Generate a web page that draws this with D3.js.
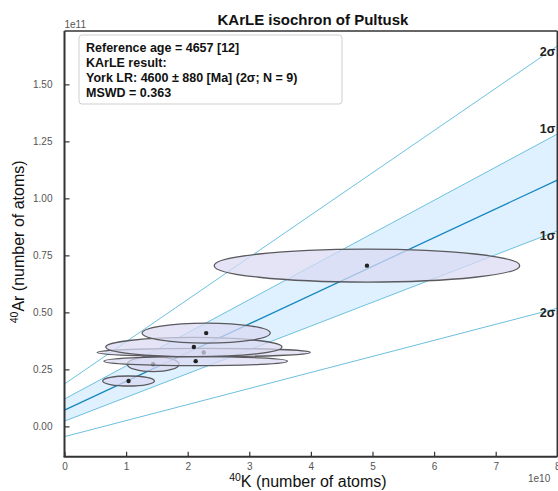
<!DOCTYPE html>
<html>
<head>
<meta charset="utf-8">
<script src="https://cdn.jsdelivr.net/npm/d3@7"></script>
<style>
  body { margin: 0; background: #fff; font-family: "Liberation Sans", Arial, sans-serif; }
</style>
</head>
<body>
<div id="vis"></div>
<script>
// KArLE isochron of Pultusk
// x in units of 1e10 atoms (40K), y in units of 1e11 atoms (40Ar)

// Sample ellipses (centre, semi-axes), in drawing order
const ellX  = [4.91, 1.44, 2.26, 1.04, 2.13, 2.10, 2.30];
const ellY  = [0.705, 0.273, 0.324, 0.199, 0.286, 0.348, 0.409];
const ellRx = [2.48, 0.42, 1.73, 0.42, 1.49, 1.43, 1.04];
const ellRy = [0.072, 0.033, 0.018, 0.022, 0.020, 0.042, 0.044];

// Regression line and confidence bands: y at x = 0 and x = 8
const bandX       = [0, 8];
const centralY    = [0.071, 1.080];
const upper1sY    = [0.120, 1.282];
const lower1sY    = [0.023, 0.857];
const upper2sY    = [0.186, 1.668];
const lower2sY    = [-0.045, 0.518];
const bandLabels  = ["2σ", "1σ", "1σ", "2σ"];

const xTicks = [0, 1, 2, 3, 4, 5, 6, 7, 8];
const yTicks = [0.00, 0.25, 0.50, 0.75, 1.00, 1.25, 1.50];

const legendLines = [
  "Reference age = 4657 [12]",
  "KArLE result:",
  "York LR: 4600 ± 880 [Ma] (2σ; N = 9)",
  "MSWD = 0.363"
];

const width = 558;
const height = 491;
const margin = { top: 31, right: 0.7, bottom: 34.3, left: 64.5 };

const svg = d3.select("#vis")
  .append("svg")
  .attr("width", width)
  .attr("height", height);

const xScale = d3.scaleLinear()
  .domain([0, 8])
  .range([margin.left, width - margin.right]);

const yScale = d3.scaleLinear()
  .domain([-0.133, 1.734])
  .range([height - margin.bottom, margin.top]);

svg.append("defs").append("clipPath")
  .attr("id", "plotclip")
  .append("rect")
  .attr("x", margin.left)
  .attr("y", margin.top)
  .attr("width", width - margin.left - margin.right)
  .attr("height", height - margin.top - margin.bottom);

const plot = svg.append("g").attr("clip-path", "url(#plotclip)");

// 1 sigma shaded band
const bandArea = d3.area()
  .x((d, i) => xScale(bandX[i]))
  .y0((d, i) => yScale(lower1sY[i]))
  .y1((d, i) => yScale(upper1sY[i]));

plot.append("path")
  .datum(bandX)
  .attr("d", bandArea)
  .attr("fill", "#dcefff")
  .attr("opacity", 0.9);

const line = d3.line()
  .x(d => xScale(d[0]))
  .y(d => yScale(d[1]));

const bandSeries = [upper2sY, upper1sY, lower1sY, lower2sY];
bandSeries.forEach(ys => {
  plot.append("path")
    .datum(bandX.map((x, i) => [x, ys[i]]))
    .attr("d", line)
    .attr("fill", "none")
    .attr("stroke", "#6cc0de")
    .attr("stroke-width", 1);
});

plot.append("path")
  .datum(bandX.map((x, i) => [x, centralY[i]]))
  .attr("d", line)
  .attr("fill", "none")
  .attr("stroke", "#1787bf")
  .attr("stroke-width", 1.3);

// Ellipses with their centre dots
ellX.forEach((cx, i) => {
  plot.append("ellipse")
    .attr("cx", xScale(cx))
    .attr("cy", yScale(ellY[i]))
    .attr("rx", xScale(ellRx[i]) - xScale(0))
    .attr("ry", yScale(0) - yScale(ellRy[i]))
    .attr("fill", "#d9d9f3")
    .attr("fill-opacity", 0.72)
    .attr("stroke", "#5a5a5e")
    .attr("stroke-width", 1.3);
  plot.append("circle")
    .attr("cx", xScale(cx))
    .attr("cy", yScale(ellY[i]))
    .attr("r", 2.2)
    .attr("fill", "#222");
});

// Sigma labels at line ends
const labelOffsets = [7, -4, 6, 5];
bandSeries.forEach((ys, i) => {
  svg.append("text")
    .attr("x", xScale(8) - 2)
    .attr("y", yScale(ys[1]) + labelOffsets[i])
    .attr("text-anchor", "end")
    .attr("dominant-baseline", "middle")
    .attr("fill", "#222")
    .style("font-size", "12.5px")
    .style("font-weight", "bold")
    .text(bandLabels[i]);
});

// Axes (ticks pointing inward)
const xAxis = svg.append("g")
  .attr("transform", `translate(0,${height - margin.bottom})`)
  .call(d3.axisBottom(xScale).tickValues(xTicks).tickSizeInner(-5).tickSizeOuter(0).tickPadding(6).tickFormat(d3.format("d")));
xAxis.select(".domain").remove();
xAxis.selectAll("line").attr("stroke", "#333").attr("stroke-width", 1.2);
xAxis.selectAll("text").attr("fill", "#555").style("font-size", "10px")
  .style("font-family", "Liberation Sans, Arial, sans-serif");

const yAxis = svg.append("g")
  .attr("transform", `translate(${margin.left},0)`)
  .call(d3.axisLeft(yScale).tickValues(yTicks).tickSizeInner(-5).tickSizeOuter(0).tickPadding(12).tickFormat(d3.format(".2f")));
yAxis.select(".domain").remove();
yAxis.selectAll("line").attr("stroke", "#333").attr("stroke-width", 1.2);
yAxis.selectAll("text").attr("fill", "#555").style("font-size", "10px")
  .style("font-family", "Liberation Sans, Arial, sans-serif");

// Frame
const x0 = margin.left, x1 = width - margin.right;
const y0 = margin.top, y1 = height - margin.bottom;
svg.append("line").attr("x1", x0).attr("x2", x1).attr("y1", y0).attr("y2", y0)
  .attr("stroke", "#333").attr("stroke-width", 1.5);
svg.append("line").attr("x1", x1).attr("x2", x1).attr("y1", y0).attr("y2", y1)
  .attr("stroke", "#333").attr("stroke-width", 1.5);
svg.append("line").attr("x1", x0).attr("x2", x0).attr("y1", y0).attr("y2", y1)
  .attr("stroke", "#333").attr("stroke-width", 2);
svg.append("line").attr("x1", x0 - 1).attr("x2", x1).attr("y1", y1).attr("y2", y1)
  .attr("stroke", "#333").attr("stroke-width", 2);

// Offset labels
svg.append("text")
  .attr("x", x0)
  .attr("y", 28)
  .attr("fill", "#555")
  .style("font-size", "10px")
  .text("1e11");

svg.append("text")
  .attr("x", 528)
  .attr("y", 482)
  .attr("fill", "#555")
  .style("font-size", "10px")
  .text("1e10");

// Title
svg.append("text")
  .attr("x", (x0 + x1) / 2 + 2)
  .attr("y", 25)
  .attr("text-anchor", "middle")
  .attr("fill", "#111")
  .style("font-size", "15px")
  .style("font-weight", "bold")
  .text("KArLE isochron of Pultusk");

// Axis labels
const xLabel = svg.append("text")
  .attr("x", (x0 + x1) / 2 - 3)
  .attr("y", 487)
  .attr("text-anchor", "middle")
  .attr("fill", "#111")
  .style("font-size", "16px");
xLabel.append("tspan").attr("dy", -6).style("font-size", "10.5px").text("40");
xLabel.append("tspan").attr("dy", 6).text("K (number of atoms)");

const yLabel = svg.append("text")
  .attr("transform", `translate(24,${(y0 + y1) / 2 - 2}) rotate(-90)`)
  .attr("text-anchor", "middle")
  .attr("fill", "#111")
  .style("font-size", "16px");
yLabel.append("tspan").attr("dy", -6).style("font-size", "10.5px").text("40");
yLabel.append("tspan").attr("dy", 6).text("Ar (number of atoms)");

// Legend box
svg.append("rect")
  .attr("x", 79)
  .attr("y", 35)
  .attr("width", 263)
  .attr("height", 69)
  .attr("rx", 3)
  .attr("fill", "#fff")
  .attr("fill-opacity", 0.85)
  .attr("stroke", "#cfcfcf")
  .attr("stroke-width", 1);

legendLines.forEach((t, i) => {
  svg.append("text")
    .attr("x", 86)
    .attr("y", 51.5 + i * 15.3)
    .attr("fill", "#111")
    .style("font-size", "12.5px")
    .style("font-weight", "bold")
    .text(t);
});
</script>
</body>
</html>
